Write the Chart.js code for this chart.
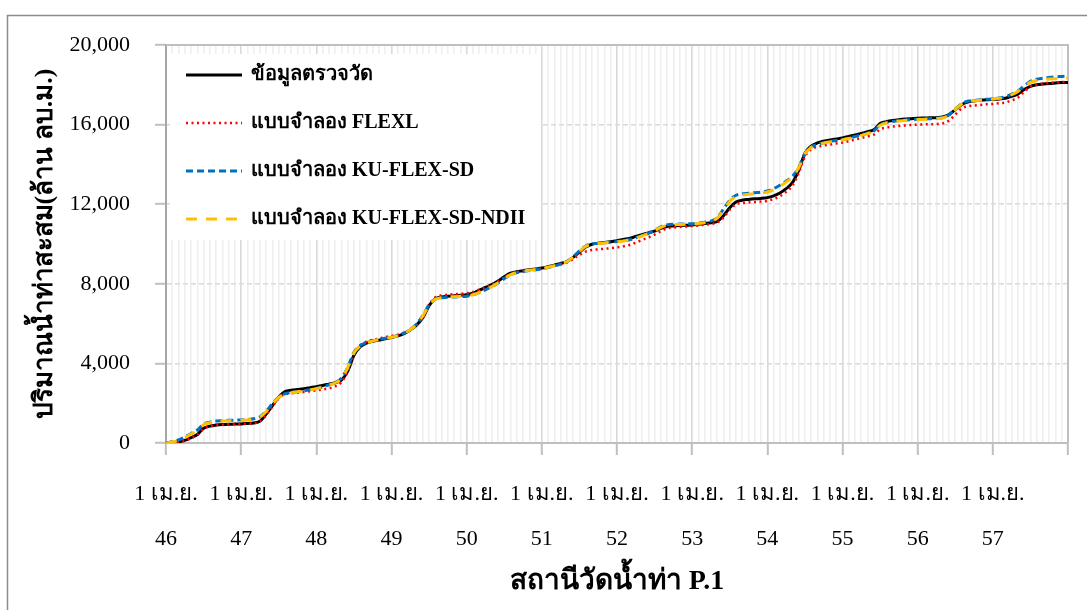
<!DOCTYPE html>
<html>
<head>
<meta charset="utf-8">
<script src="https://cdn.jsdelivr.net/npm/chart.js@4.4.1/dist/chart.umd.min.js"></script>
<style>
  html, body { margin: 0; padding: 0; background: #ffffff; }
  #wrap { position: relative; width: 1087px; height: 610px; }
</style>
</head>
<body>
<div id="wrap"><canvas id="c" width="1087" height="610"></canvas></div>
<script>
// ---------- DATA ----------
const yearLabels = ['46','47','48','49','50','51','52','53','54','55','56','57','58'];
const monthNames = ['เม.ย.','พ.ค.','มิ.ย.','ก.ค.','ส.ค.','ก.ย.','ต.ค.','พ.ย.','ธ.ค.','ม.ค.','ก.พ.','มี.ค.'];
const yTicks = [0, 4000, 8000, 12000, 16000, 20000];

const seriesNames = ['ข้อมูลตรวจวัด', 'แบบจำลอง FLEXL', 'แบบจำลอง KU-FLEX-SD', 'แบบจำลอง KU-FLEX-SD-NDII'];

const observed = [
  0, 25, 60, 130, 270, 430, 740, 850, 900, 930, 945, 950,
  960, 985, 1010, 1100, 1450, 1880, 2310, 2580, 2650, 2690, 2730, 2780,
  2830, 2890, 2960, 3030, 3160, 3600, 4400, 4840, 5020, 5110, 5170, 5240,
  5300, 5380, 5500, 5680, 5920, 6300, 6900, 7250, 7340, 7370, 7400, 7420,
  7450, 7530, 7670, 7820, 7960, 8140, 8350, 8530, 8610, 8660, 8710, 8750,
  8790, 8860, 8940, 9020, 9120, 9330, 9590, 9850, 9990, 10040, 10070, 10110,
  10170, 10230, 10280, 10380, 10470, 10560, 10650, 10790, 10880, 10910, 10930, 10945,
  10955, 10990, 11030, 11070, 11140, 11420, 11820, 12110, 12200, 12240, 12270, 12290,
  12330, 12420, 12560, 12780, 13080, 13700, 14550, 14920, 15080, 15170, 15230, 15280,
  15330, 15400, 15480, 15560, 15640, 15740, 16060, 16150, 16210, 16250, 16280, 16300,
  16320, 16330, 16340, 16350, 16380, 16500, 16750, 17000, 17130, 17180, 17220, 17250,
  17270, 17290, 17320, 17420, 17530, 17760, 17920, 18000, 18040, 18070, 18090, 18110,
  18120
];
const flexl = [
  0, 20, 50, 110, 240, 400, 720, 840, 890, 920, 940, 950,
  960, 980, 1000, 1080, 1400, 1850, 2250, 2450, 2500, 2530, 2560, 2600,
  2640, 2690, 2750, 2850, 3050, 3600, 4450, 4900, 5100, 5180, 5250, 5320,
  5380, 5440, 5540, 5700, 5930, 6300, 6950, 7320, 7420, 7450, 7480, 7500,
  7530, 7590, 7700, 7830, 7960, 8120, 8320, 8500, 8580, 8630, 8680, 8720,
  8760, 8830, 8900, 8980, 9070, 9250, 9450, 9620, 9700, 9730, 9760, 9790,
  9830, 9880, 9950, 10070, 10200, 10330, 10470, 10640, 10780, 10830, 10860, 10880,
  10900, 10930, 10970, 11010, 11080, 11320, 11720, 12000, 12060, 12090, 12110, 12130,
  12170, 12260, 12400, 12620, 12930, 13550, 14400, 14760, 14880, 14950, 15000, 15050,
  15100, 15170, 15250, 15330, 15410, 15500, 15760, 15850, 15900, 15930, 15960, 15980,
  16000, 16010, 16020, 16030, 16060, 16200, 16500, 16800, 16920, 16960, 16990, 17020,
  17040, 17070, 17110, 17220, 17350, 17650, 17900, 18010, 18070, 18100, 18120, 18140,
  18150
];
const kuFlexSd = [
  0, 60, 150, 300, 480, 650, 950, 1050, 1100, 1120, 1140, 1150,
  1160, 1180, 1220, 1320, 1600, 1980, 2300, 2480, 2540, 2580, 2620, 2680,
  2740, 2820, 2920, 3040, 3250, 3800, 4550, 4900, 5050, 5130, 5200, 5260,
  5320, 5400, 5520, 5700, 5980, 6400, 6950, 7230, 7300, 7320, 7340, 7360,
  7380, 7440, 7560, 7700, 7850, 8040, 8260, 8450, 8560, 8620, 8670, 8710,
  8750, 8820, 8900, 8990, 9110, 9350, 9650, 9900, 10000, 10030, 10060, 10090,
  10120, 10160, 10210, 10310, 10420, 10540, 10680, 10860, 10960, 10990, 11000, 11010,
  11020, 11050, 11090, 11150, 11330, 11750, 12200, 12450, 12520, 12550, 12580, 12610,
  12660, 12780, 12950, 13150, 13400, 13850, 14550, 14870, 15000, 15090, 15150, 15200,
  15250, 15320, 15400, 15480, 15570, 15680, 15990, 16100, 16160, 16200, 16230, 16250,
  16270, 16290, 16300, 16320, 16360, 16500, 16780, 17050, 17170, 17210, 17240, 17270,
  17300, 17340, 17400, 17530, 17690, 17950, 18170, 18280, 18330, 18370, 18400, 18420,
  18440
];
const kuFlexSdNdii = [
  0, 50, 130, 270, 450, 620, 920, 1020, 1080, 1100, 1120, 1130,
  1140, 1160, 1200, 1300, 1580, 1960, 2290, 2470, 2530, 2570, 2610, 2670,
  2730, 2810, 2900, 3020, 3230, 3780, 4520, 4880, 5040, 5120, 5190, 5250,
  5310, 5390, 5510, 5690, 5960, 6380, 6930, 7220, 7300, 7330, 7350, 7370,
  7390, 7450, 7570, 7710, 7860, 8050, 8270, 8460, 8570, 8630, 8680, 8720,
  8760, 8830, 8910, 9000, 9110, 9340, 9630, 9880, 9990, 10020, 10050, 10080,
  10110, 10150, 10200, 10300, 10410, 10530, 10670, 10840, 10940, 10970, 10980, 10990,
  11000, 11030, 11070, 11130, 11300, 11700, 12150, 12400, 12470, 12500, 12530, 12560,
  12610, 12730, 12900, 13110, 13370, 13830, 14530, 14850, 14980, 15070, 15130, 15180,
  15230, 15300, 15380, 15460, 15550, 15660, 15970, 16080, 16140, 16180, 16210, 16230,
  16250, 16270, 16280, 16300, 16340, 16480, 16760, 17030, 17150, 17190, 17220, 17250,
  17280, 17320, 17380, 17500, 17660, 17920, 18120, 18220, 18260, 18290, 18310, 18330,
  18350
];

// ---------- CATEGORIES (one per month, 1 Apr 46 .. 1 Apr 58) ----------
const monthLabels = [];
for (let y = 0; y < yearLabels.length - 1; y++) {
  for (let m = 0; m < 12; m++) monthLabels.push('1 ' + monthNames[m] + ' ' + yearLabels[y]);
}
monthLabels.push('1 ' + monthNames[0] + ' ' + yearLabels[yearLabels.length - 1]);

// ---------- STYLE ----------
const SERIF = '"Liberation Serif", "Times New Roman", "DejaVu Serif", serif';

const outerBorder = {
  id: 'outerBorder',
  beforeDraw(chart) {
    const ctx = chart.ctx;
    ctx.save();
    ctx.fillStyle = '#ffffff';
    ctx.fillRect(0, 0, chart.width, chart.height);
    ctx.strokeStyle = '#8c8c8c';
    ctx.lineWidth = 1.5;
    ctx.strokeRect(7.5, 15.5, 1200, 800);
    ctx.restore();
  }
};

const plotFrame = {
  id: 'plotFrame',
  beforeDatasetsDraw(chart) {
    const {ctx, chartArea: a} = chart;
    ctx.save();
    ctx.strokeStyle = '#bfbfbf';
    ctx.lineWidth = 2;
    ctx.beginPath();
    ctx.moveTo(a.left, a.top);
    ctx.lineTo(a.right, a.top);
    ctx.lineTo(a.right, a.bottom);
    ctx.stroke();
    ctx.restore();
  }
};

const boxLegend = {
  id: 'boxLegend',
  afterDatasetsDraw(chart) {
    const ctx = chart.ctx;
    ctx.save();
    ctx.fillStyle = '#ffffff';
    ctx.fillRect(170, 54, 370, 186);
    chart.data.datasets.forEach((ds, i) => {
      const y = 75 + i * 48;
      ctx.strokeStyle = ds.borderColor;
      ctx.lineWidth = ds.borderWidth;
      ctx.setLineDash(ds.borderDash || []);
      ctx.lineCap = ds.borderCapStyle || 'butt';
      ctx.beginPath();
      ctx.moveTo(186, y);
      ctx.lineTo(242, y);
      ctx.stroke();
      ctx.setLineDash([]);
      ctx.fillStyle = '#000000';
      ctx.font = 'bold 20px ' + SERIF;
      ctx.textBaseline = 'middle';
      ctx.textAlign = 'left';
      ctx.fillText(ds.label, 251, y);
    });
    ctx.restore();
  }
};

const ctx = document.getElementById('c').getContext('2d');
new Chart(ctx, {
  type: 'line',
  data: {
    labels: monthLabels,
    datasets: [
      { label: seriesNames[0], data: observed, borderColor: '#000000', borderWidth: 3,
        borderDash: [], order: 4 },
      { label: seriesNames[1], data: flexl, borderColor: '#ff0000', borderWidth: 2.5,
        borderDash: [2, 3.5], order: 3 },
      { label: seriesNames[2], data: kuFlexSd, borderColor: '#0070c0', borderWidth: 3,
        borderDash: [7, 4], order: 2 },
      { label: seriesNames[3], data: kuFlexSdNdii, borderColor: '#ffc000', borderWidth: 3,
        borderDash: [11, 9], order: 1 }
    ].map(d => Object.assign(d, {
      pointRadius: 0, pointHoverRadius: 0, fill: false,
      cubicInterpolationMode: 'monotone'
    }))
  },
  options: {
    responsive: false,
    animation: false,
    devicePixelRatio: 1,
    layout: { padding: { left: 0, right: 19, top: 45, bottom: 0 } },
    plugins: {
      legend: { display: false },
      tooltip: { enabled: false }
    },
    scales: {
      x: {
        type: 'category',
        afterFit(scale) { scale.height = 167; },
        grid: {
          color: c => (c.index % 12 === 0 ? '#d9d9d9' : '#efefef'),
          lineWidth: 1.6,
          tickLength: 12,
          tickColor: c => (c.index % 12 === 0 ? '#bfbfbf' : 'rgba(0,0,0,0)'),
          tickWidth: 2
        },
        border: { color: '#bfbfbf', width: 2 },
        ticks: {
          autoSkip: false,
          maxRotation: 0,
          minRotation: 0,
          padding: 17,
          color: '#000000',
          font: { family: SERIF, size: 22, lineHeight: '45px' },
          callback: (v, i) => (i % 12 === 0 && i < 144) ? ['1 ' + monthNames[0], yearLabels[i / 12]] : ''
        },
        title: {
          display: true,
          text: 'สถานีวัดน้ำท่า P.1',
          color: '#000000',
          font: { family: SERIF, size: 28, weight: 'bold', lineHeight: 1.2 },
          padding: { top: 0, bottom: 11 }
        }
      },
      y: {
        min: 0,
        max: 20000,
        afterFit(scale) { scale.width = 166; },
        afterBuildTicks(scale) { scale.ticks = yTicks.map(v => ({ value: v })); },
        grid: {
          color: '#d9d9d9',
          lineWidth: 1.6,
          tickLength: 11,
          tickColor: '#bfbfbf',
          tickWidth: 2
        },
        border: { color: '#a6a6a6', width: 2, dash: [5, 3] },
        ticks: {
          padding: 25,
          color: '#000000',
          font: { family: SERIF, size: 22 },
          callback: v => v.toLocaleString('en-US')
        },
        title: {
          display: true,
          text: 'ปริมาณน้ำท่าสะสม(ล้าน ลบ.ม.)',
          color: '#000000',
          font: { family: SERIF, size: 26, weight: 'bold', lineHeight: 1.2 },
          padding: { top: 30, bottom: 0 }
        }
      }
    }
  },
  plugins: [outerBorder, plotFrame, boxLegend]
});
</script>
</body>
</html>
